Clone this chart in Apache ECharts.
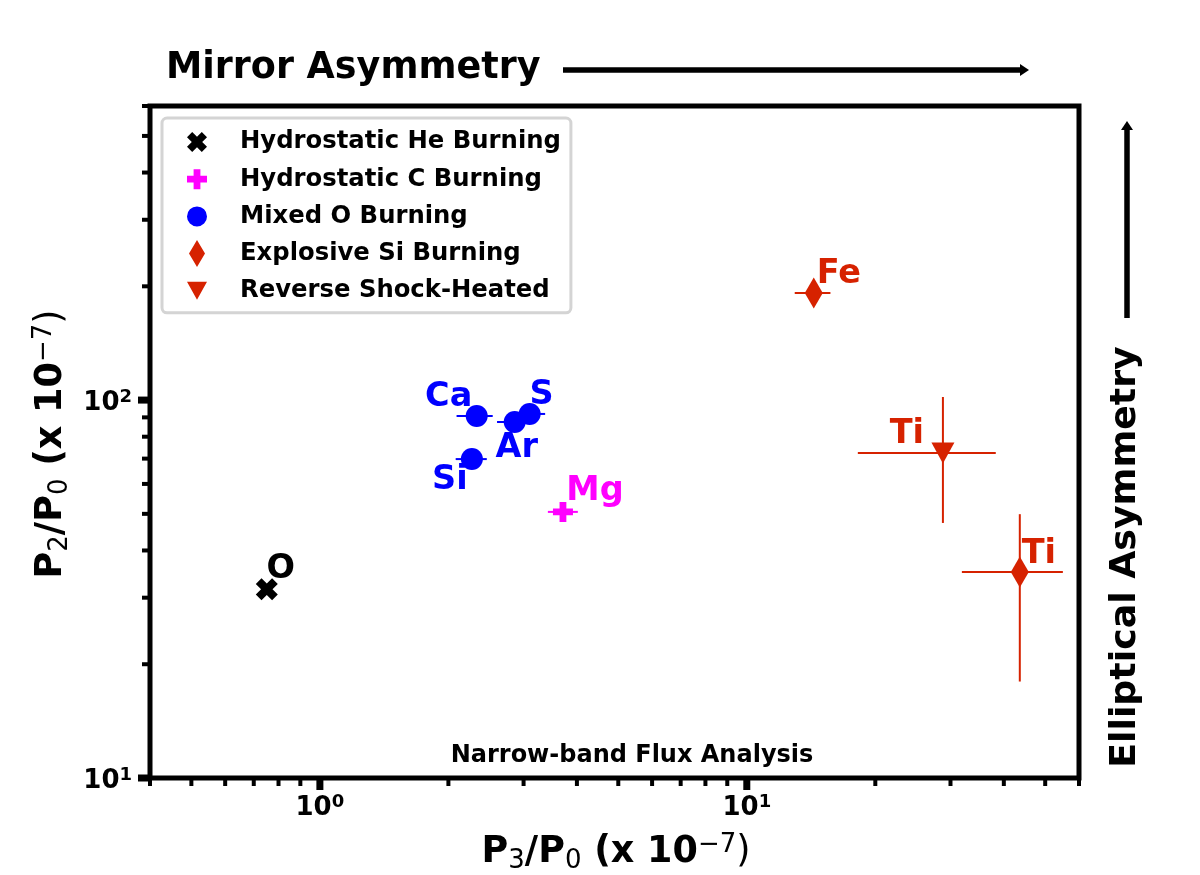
<!DOCTYPE html>
<html>
<head>
<meta charset="utf-8">
<script src="https://cdn.jsdelivr.net/npm/echarts@6.0.0/dist/echarts.min.js"></script>
<style>
html,body{margin:0;padding:0;background:#ffffff;}
#chart{width:1200px;height:875px;}
</style>
</head>
<body>
<div id="chart"></div>
<script>
// ---------------- data ----------------
const groupNames = ['Hydrostatic He Burning', 'Hydrostatic C Burning', 'Mixed O Burning', 'Explosive Si Burning', 'Reverse Shock-Heated'];
// rows: [element, P3/P0, P2/P0, xLow, xHigh, yLow, yHigh]   (null = no error bar)
const heBurning    = [['O', 0.751, 31.6, null, null, null, null]];
const cBurning     = [['Mg', 3.71, 50.6, 3.42, 4.02, null, null]];
const oBurning     = [['Ca', 2.33, 90.8, 2.09, 2.54, null, null],
                      ['Ar', 2.86, 87.5, 2.60, 3.13, null, null],
                      ['S', 3.10, 91.9, 2.85, 3.37, null, null],
                      ['Si', 2.27, 69.8, 2.08, 2.46, null, null]];
const siBurning    = [['Fe', 14.35, 191.9, 12.95, 15.7, null, null],
                      ['Ti', 43.6, 35.1, 31.9, 55.0, 18.0, 49.9]];
const reverseShock = [['Ti', 28.8, 72.4, 18.2, 38.3, 47.3, 101.9]];

const X_RANGE = [0.4, 60];
const Y_RANGE = [10, 600];
const xMajorTicks = [1, 10];
const xMinorTicks = [0.4, 0.5, 0.6, 0.7, 0.8, 0.9, 2, 3, 4, 5, 6, 7, 8, 9, 20, 30, 40, 50, 60];
const yMajorTicks = [10, 100];
const yMinorTicks = [20, 30, 40, 50, 60, 70, 80, 90, 200, 300, 400, 500, 600];
const xTickExponents = ['0', '1'];
const yTickExponents = ['1', '2'];

// ---------------- style / layout ----------------
const FONT = "'DejaVu Sans', sans-serif";
const groups = [heBurning, cBurning, oBurning, siBurning, reverseShock];
const COLORS = ['#000000', '#ff00ff', '#0000ff', '#d62200', '#d62200'];
const a = 2.6;
const X_PATH = `M0,${a} L${a},0 L5,${5 - a} L${10 - a},0 L10,${a} L${5 + a},5 L10,${10 - a} L${10 - a},10 L5,${5 + a} L${a},10 L0,${10 - a} L${5 - a},5 Z`;
const PLUS_PATH = 'M3.3,0 L6.7,0 L6.7,3.3 L10,3.3 L10,6.7 L6.7,6.7 L6.7,10 L3.3,10 L3.3,6.7 L0,6.7 L0,3.3 L3.3,3.3 Z';
const SYMBOLS = ['path://' + X_PATH, 'path://' + PLUS_PATH, 'circle', 'path://M5,0 L10,8.5 L5,17 L0,8.5 Z', 'path://M0,0 L11,0 L5.5,10 Z'];
const SYMBOL_SIZES = [22, 20, 22, [18, 31], [23, 21]];
// legend icons drawn in a 22 x 28 frame (corner dots fix the frame)
const FRAME = 'M0,0 L0,0 Z M22,28 L22,28 Z ';
function sq(p, x0, y0, s) { // scale a 10x10 path into a box
  return p.replace(/(-?\d+(\.\d+)?),(-?\d+(\.\d+)?)/g, (m, x, _1, y) => (x0 + parseFloat(x) * s / 10).toFixed(2) + ',' + (y0 + parseFloat(y) * s / 10).toFixed(2));
}
const LEGEND_ICONS = [
  'path://' + FRAME + sq(X_PATH, 1, 4, 20),
  'path://' + FRAME + sq(PLUS_PATH, 1, 4, 20),
  'path://' + FRAME + 'M1,14 A10,10 0 1,0 21,14 A10,10 0 1,0 1,14 Z',
  'path://' + FRAME + 'M11,0.5 L19,14 L11,27.5 L3,14 Z',
  'path://' + FRAME + 'M1,5 L21,5 L11,23 Z'
];
const labelOffsets = [[[14, -20]], [[32, -21]], [[-28, -19], [2, 26], [12, -19], [-22, 21]], [[25, -19], [19, -18]], [[-36, -19]]];

const TICK_RICH = {
  b: {fontFamily: FONT, fontWeight: 'bold', fontSize: 26, lineHeight: 30, fill: '#000', color: '#000'},
  s: {fontFamily: FONT, fontWeight: 'bold', fontSize: 18, lineHeight: 14, verticalAlign: 'top', fill: '#000', color: '#000'}
};
const TITLE_RICH = {
  b: {fontFamily: FONT, fontWeight: 'bold', fontSize: 36.5, lineHeight: 42, fill: '#000'},
  sub: {fontFamily: FONT, fontWeight: 'normal', fontSize: 26, lineHeight: 25, verticalAlign: 'bottom', fill: '#000'},
  sup: {fontFamily: FONT, fontWeight: 'normal', fontSize: 26, lineHeight: 21, verticalAlign: 'top', fill: '#000'},
  r: {fontFamily: FONT, fontWeight: 'normal', fontSize: 36.5, lineHeight: 42, fill: '#000'}
};

// ---------------- derived series data ----------------
const errorData = [];
groups.forEach((g, gi) => g.forEach(r => {
  errorData.push([r[1], r[2],
    r[3] == null ? r[1] : r[3], r[4] == null ? r[1] : r[4],
    r[5] == null ? r[2] : r[5], r[6] == null ? r[2] : r[6], gi]);
}));
const tickData = [];
xMinorTicks.forEach(v => tickData.push([v, Y_RANGE[0], 0, 0, 0]));
xMajorTicks.forEach((v, i) => tickData.push([v, Y_RANGE[0], 0, 1, i]));
yMinorTicks.forEach(v => tickData.push([X_RANGE[0], v, 1, 0, 0]));
yMajorTicks.forEach((v, i) => tickData.push([X_RANGE[0], v, 1, 1, i]));

function renderError(params, api) {
  const x = api.value(0), y = api.value(1);
  const xlo = api.value(2), xhi = api.value(3), ylo = api.value(4), yhi = api.value(5);
  const color = COLORS[api.value(6)];
  const kids = [];
  if (xlo !== xhi) {
    const p1 = api.coord([xlo, y]), p2 = api.coord([xhi, y]);
    kids.push({type: 'line', shape: {x1: p1[0], y1: p1[1], x2: p2[0], y2: p2[1]}, style: {stroke: color, lineWidth: 2}});
  }
  if (ylo !== yhi) {
    const p1 = api.coord([x, ylo]), p2 = api.coord([x, yhi]);
    kids.push({type: 'line', shape: {x1: p1[0], y1: p1[1], x2: p2[0], y2: p2[1]}, style: {stroke: color, lineWidth: 2}});
  }
  return {type: 'group', children: kids};
}

function renderTick(params, api) {
  const p = api.coord([api.value(0), api.value(1)]);
  const isY = api.value(2) === 1;
  const major = api.value(3) === 1;
  const len = major ? 12 : 8;
  const w = major ? 7 : 4;
  const kids = [];
  if (isY) {
    kids.push({type: 'line', shape: {x1: p[0], y1: p[1], x2: p[0] - len, y2: p[1]}, style: {stroke: '#000', lineWidth: w}});
  } else {
    kids.push({type: 'line', shape: {x1: p[0], y1: p[1], x2: p[0], y2: p[1] + len}, style: {stroke: '#000', lineWidth: w}});
  }
  if (major) {
    const idx = api.value(4);
    const exp = isY ? yTickExponents[idx] : xTickExponents[idx];
    kids.push({type: 'text', style: {
      text: '{b|10}{s|' + exp + '}', rich: TICK_RICH,
      x: isY ? p[0] - 18 : p[0], y: isY ? p[1] + 3 : p[1] + 30,
      align: isY ? 'right' : 'center', verticalAlign: 'middle'
    }});
  }
  return {type: 'group', children: kids};
}

const scatterSeries = groups.map((g, gi) => ({
  type: 'scatter',
  name: groupNames[gi],
  symbol: SYMBOLS[gi],
  symbolSize: SYMBOL_SIZES[gi],
  itemStyle: {color: COLORS[gi], opacity: 1},
  emphasis: {disabled: true},
  z: 5,
  data: g.map((r, ri) => ({
    value: [r[1], r[2]],
    label: {
      show: true, formatter: r[0], position: 'inside', offset: labelOffsets[gi][ri],
      color: COLORS[gi], fontFamily: FONT, fontWeight: 'bold', fontSize: 33.5
    }
  }))
}));

const option = {
  animation: false,
  backgroundColor: '#ffffff',
  grid: {left: 150, right: 121, top: 106, bottom: 97, show: true, borderColor: '#000', borderWidth: 5, backgroundColor: 'transparent'},
  xAxis: {
    type: 'log', logBase: 10, min: X_RANGE[0], max: X_RANGE[1],
    axisLine: {show: false}, axisTick: {show: false}, axisLabel: {show: false}, splitLine: {show: false}
  },
  yAxis: {
    type: 'log', logBase: 10, min: Y_RANGE[0], max: Y_RANGE[1],
    axisLine: {show: false}, axisTick: {show: false}, axisLabel: {show: false}, splitLine: {show: false}
  },
  legend: {
    left: 162, top: 118, orient: 'vertical',
    padding: [10, 10, 8, 24],
    itemWidth: 22, itemHeight: 28, itemGap: 9.2,
    backgroundColor: '#ffffff', borderColor: '#d4d4d4', borderWidth: 3, borderRadius: 5,
    symbolKeepAspect: true,
    selectedMode: false,
    data: groupNames.map((n, i) => ({name: n, icon: LEGEND_ICONS[i]})),
    formatter: n => '{t|' + n + '}',
    textStyle: {rich: {t: {fontFamily: FONT, fontWeight: 'bold', fontSize: 24.3, color: '#000', padding: [0, 0, 0, 27]}}}
  },
  graphic: [
    {type: 'text', x: 166, y: 69, style: {text: 'Mirror Asymmetry', fontFamily: FONT, fontWeight: 'bold', fontSize: 36.5, fill: '#000', align: 'left', verticalAlign: 'middle'}},
    {type: 'line', shape: {x1: 563, y1: 70, x2: 1022, y2: 70}, style: {stroke: '#000', lineWidth: 5.5}},
    {type: 'polygon', shape: {points: [[1020, 64], [1029, 70], [1020, 76]]}, style: {fill: '#000'}},
    {type: 'text', x: 1126, y: 557, rotation: Math.PI / 2, style: {text: 'Elliptical Asymmetry', fontFamily: FONT, fontWeight: 'bold', fontSize: 36.3, fill: '#000', align: 'center', verticalAlign: 'middle'}},
    {type: 'line', shape: {x1: 1127, y1: 318, x2: 1127, y2: 128}, style: {stroke: '#000', lineWidth: 5.5}},
    {type: 'polygon', shape: {points: [[1121, 130], [1127, 121], [1133, 130]]}, style: {fill: '#000'}},
    {type: 'text', x: 632, y: 756, style: {text: 'Narrow-band Flux Analysis', fontFamily: FONT, fontWeight: 'bold', fontSize: 24, fill: '#000', align: 'center', verticalAlign: 'middle'}},
    {type: 'text', x: 616, y: 853, style: {text: '{b|P}{sub|3}{b|/P}{sub|0}{b| (x 10}{sup|\u22127}{r|)}', rich: TITLE_RICH, align: 'center', verticalAlign: 'middle'}},
    {type: 'text', x: 52, y: 444, rotation: Math.PI / 2, style: {text: '{b|P}{sub|2}{b|/P}{sub|0}{b| (x 10}{sup|\u22127}{r|)}', rich: TITLE_RICH, align: 'center', verticalAlign: 'middle'}}
  ],
  series: [
    {type: 'custom', name: 'errors', silent: true, z: 3, renderItem: renderError, data: errorData, encode: {x: 0, y: 1}},
    ...scatterSeries,
    {type: 'custom', name: 'ticks', silent: true, z: 10, renderItem: renderTick, data: tickData, encode: {x: 0, y: 1}}
  ]
};

const chart = echarts.init(document.getElementById('chart'), null, {renderer: 'canvas'});
chart.setOption(option);
</script>
</body>
</html>
